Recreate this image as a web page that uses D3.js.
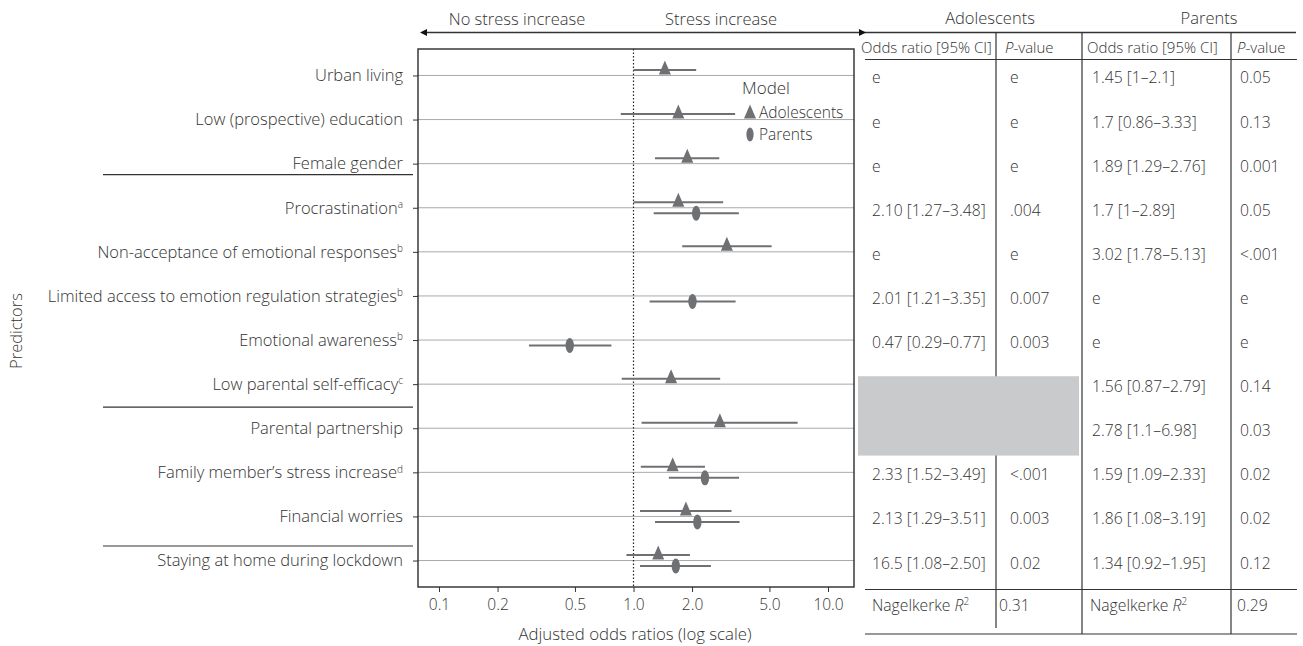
<!DOCTYPE html>
<html>
<head>
<meta charset="utf-8">
<script src="https://cdn.jsdelivr.net/npm/d3@7"></script>
<style>
  body { margin: 0; background: #fff; }
  svg { font-family: "Open Sans", sans-serif; font-weight: 300; }
</style>
</head>
<body>
<svg width="1303" height="646"></svg>
<script>
// predictors, top to bottom
const predictors = [
  "Urban living",
  "Low (prospective) education",
  "Female gender",
  "Procrastination",
  "Non-acceptance of emotional responses",
  "Limited access to emotion regulation strategies",
  "Emotional awareness",
  "Low parental self-efficacy",
  "Parental partnership",
  "Family member\u2019s stress increase",
  "Financial worries",
  "Staying at home during lockdown"
];
const footnotes = ["", "", "", "a", "b", "b", "b", "c", "", "d", "", ""];

// plotted estimates (triangle = "Adolescents" in legend, ellipse = "Parents")
const triOR = [1.45, 1.7, 1.89, 1.7, 3.02, null, null, 1.56, 2.78, 1.59, 1.86, 1.34];
const triLo = [1, 0.86, 1.29, 1, 1.78, null, null, 0.87, 1.1, 1.09, 1.08, 0.92];
const triHi = [2.1, 3.33, 2.76, 2.89, 5.13, null, null, 2.79, 6.98, 2.33, 3.19, 1.95];
const ellOR = [null, null, null, 2.10, null, 2.01, 0.47, null, null, 2.33, 2.13, 1.65];
const ellLo = [null, null, null, 1.27, null, 1.21, 0.29, null, null, 1.52, 1.29, 1.08];
const ellHi = [null, null, null, 3.48, null, 3.35, 0.77, null, null, 3.49, 3.51, 2.50];

const xTicks = [0.1, 0.2, 0.5, 1, 2, 5, 10];

// table columns
const adolOdds = ["e", "e", "e", "2.10 [1.27\u20133.48]", "e", "2.01 [1.21\u20133.35]", "0.47 [0.29\u20130.77]", "", "", "2.33 [1.52\u20133.49]", "2.13 [1.29\u20133.51]", "16.5 [1.08\u20132.50]"];
const adolP = ["e", "e", "e", ".004", "e", "0.007", "0.003", "", "", "<.001", "0.003", "0.02"];
const parOdds = ["1.45 [1\u20132.1]", "1.7 [0.86\u20133.33]", "1.89 [1.29\u20132.76]", "1.7 [1\u20132.89]", "3.02 [1.78\u20135.13]", "e", "e", "1.56 [0.87\u20132.79]", "2.78 [1.1\u20136.98]", "1.59 [1.09\u20132.33]", "1.86 [1.08\u20133.19]", "1.34 [0.92\u20131.95]"];
const parP = ["0.05", "0.13", "0.001", "0.05", "<.001", "e", "e", "0.14", "0.03", "0.02", "0.02", "0.12"];
const nagelkerke = ["0.31", "0.29"];

const panel = {left: 418, right: 854, top: 49, bottom: 587};
const ink = "#333";
const markCol = "#6f7073";
const gridCol = "#a9a9a9";

const svg = d3.select("svg");

const x = d3.scaleLog().domain([0.1, 10]).range([439, 828]);
const y = d3.scalePoint().domain(predictors).range([panel.top, panel.bottom]).padding(0.6);
const step = y.step();

// gridlines
svg.append("g")
    .selectAll("line")
    .data(predictors)
    .join("line")
    .attr("x1", panel.left).attr("x2", panel.right)
    .attr("y1", d => y(d)).attr("y2", d => y(d))
    .attr("stroke", gridCol).attr("stroke-width", 1);

// reference line at OR = 1
svg.append("line")
    .attr("x1", x(1)).attr("x2", x(1))
    .attr("y1", panel.top).attr("y2", panel.bottom)
    .attr("stroke", "#222").attr("stroke-width", 1.2)
    .attr("stroke-dasharray", "1.5,2");

// series
const tri = predictors.map((p, i) => ({p, or: triOR[i], lo: triLo[i], hi: triHi[i]})).filter(d => d.or != null);
const ell = predictors.map((p, i) => ({p, or: ellOR[i], lo: ellLo[i], hi: ellHi[i]})).filter(d => d.or != null);
const triOff = -5.5, ellOff = 5.5;
const triPath = "M0,-9.5L6,4.5L-6,4.5Z";

const marks = svg.append("g");
marks.selectAll("line.tri")
    .data(tri)
    .join("line")
    .attr("class", "tri")
    .attr("x1", d => x(d.lo)).attr("x2", d => x(d.hi))
    .attr("y1", d => y(d.p) + triOff).attr("y2", d => y(d.p) + triOff)
    .attr("stroke", markCol).attr("stroke-width", 2);
marks.selectAll("path.tri")
    .data(tri)
    .join("path")
    .attr("class", "tri")
    .attr("d", triPath)
    .attr("transform", d => `translate(${x(d.or)},${y(d.p) + triOff})`)
    .attr("fill", markCol);
marks.selectAll("line.ell")
    .data(ell)
    .join("line")
    .attr("class", "ell")
    .attr("x1", d => x(d.lo)).attr("x2", d => x(d.hi))
    .attr("y1", d => y(d.p) + ellOff).attr("y2", d => y(d.p) + ellOff)
    .attr("stroke", markCol).attr("stroke-width", 2);
marks.selectAll("ellipse")
    .data(ell)
    .join("ellipse")
    .attr("cx", d => x(d.or)).attr("cy", d => y(d.p) + ellOff)
    .attr("rx", 4.2).attr("ry", 7.5)
    .attr("fill", markCol);

// panel border
svg.append("rect")
    .attr("x", panel.left).attr("y", panel.top)
    .attr("width", panel.right - panel.left).attr("height", panel.bottom - panel.top)
    .attr("fill", "none").attr("stroke", "#2b2b2b").attr("stroke-width", 1.4);

// y axis
const yAxis = svg.append("g")
    .attr("transform", `translate(${panel.left},0)`)
    .call(d3.axisLeft(y).tickSize(5).tickPadding(10))
    .attr("font-family", null).attr("font-size", 16.5);
yAxis.select(".domain").remove();
yAxis.selectAll(".tick line").attr("stroke", ink);
yAxis.selectAll(".tick text")
    .attr("fill", ink)
    .each(function(d) {
        const f = footnotes[predictors.indexOf(d)];
        if (f) d3.select(this).append("tspan").attr("font-size", 10).attr("dy", "-0.55em").text(f);
    });

// x axis
const xAxis = svg.append("g")
    .attr("transform", `translate(0,${panel.bottom})`)
    .call(d3.axisBottom(x).tickValues(xTicks).tickFormat(d3.format(".1f")).tickSize(5).tickPadding(7))
    .attr("font-family", null).attr("font-size", 15.5);
xAxis.select(".domain").remove();
xAxis.selectAll(".tick line").attr("stroke", ink);
xAxis.selectAll(".tick text").attr("fill", ink);

svg.append("text")
    .attr("x", 635).attr("y", 640)
    .attr("text-anchor", "middle").attr("font-size", 16.8).attr("fill", ink)
    .text("Adjusted odds ratios (log scale)");

svg.append("text")
    .attr("transform", "translate(22,331) rotate(-90)")
    .attr("text-anchor", "middle").attr("font-size", 16.5).attr("fill", ink)
    .text("Predictors");

// group separators under labels
const seps = [[2, 0.25], [7, 0.52], [10, 0.67]];
svg.append("g")
    .selectAll("line")
    .data(seps)
    .join("line")
    .attr("x1", 103).attr("x2", 413)
    .attr("y1", d => y(predictors[d[0]]) + step * d[1])
    .attr("y2", d => y(predictors[d[0]]) + step * d[1])
    .attr("stroke", ink).attr("stroke-width", 1.2);

// legend
const lg = svg.append("g").attr("font-size", 15.5).attr("fill", ink);
lg.append("text").attr("x", 742).attr("y", 94).attr("font-size", 17).text("Model");
lg.append("path").attr("d", triPath).attr("transform", "translate(750,114)").attr("fill", markCol);
lg.append("ellipse").attr("cx", 750).attr("cy", 134.5).attr("rx", 3.6).attr("ry", 7).attr("fill", markCol);
lg.append("text").attr("x", 759).attr("y", 118).text("Adolescents");
lg.append("text").attr("x", 759).attr("y", 139.5).text("Parents");

// top header: direction arrow + table top rule
const topY = 32.5;
svg.append("line")
    .attr("x1", 424).attr("x2", 1296).attr("y1", topY).attr("y2", topY)
    .attr("stroke", ink).attr("stroke-width", 1.3);
svg.append("path").attr("d", `M420,${topY}l7,-3.5v7Z`).attr("fill", "#111");
svg.append("path").attr("d", `M866,${topY}l-7,-3.5v7Z`).attr("fill", "#111");
svg.append("text").attr("x", 517).attr("y", 25).attr("text-anchor", "middle")
    .attr("font-size", 16.5).attr("fill", ink).text("No stress increase");
svg.append("text").attr("x", 721).attr("y", 25).attr("text-anchor", "middle")
    .attr("font-size", 16.5).attr("fill", ink).text("Stress increase");

// table
const colX = {a: 872, b: 1010, c: 1092, d: 1240};
const tbl = svg.append("g").attr("fill", ink);
tbl.append("text").attr("x", 990).attr("y", 24).attr("text-anchor", "middle").attr("font-size", 16.5).text("Adolescents");
tbl.append("text").attr("x", 1209).attr("y", 24).attr("text-anchor", "middle").attr("font-size", 16.5).text("Parents");

const hdr = tbl.append("g").attr("font-size", 15);
hdr.append("text").attr("x", 861).attr("y", 53).text("Odds ratio [95% CI]");
hdr.append("text").attr("x", 1087).attr("y", 53).text("Odds ratio [95% CI]");
[1005, 1237].forEach(px => {
    const t = hdr.append("text").attr("x", px).attr("y", 53);
    t.append("tspan").attr("font-style", "italic").text("P");
    t.append("tspan").text("-value");
});

const rules = tbl.append("g").attr("stroke", ink).attr("stroke-width", 1.2);
[59.5, 589.5, 634].forEach(ry => rules.append("line").attr("x1", 865).attr("x2", 1297).attr("y1", ry).attr("y2", ry));
[[996, 628], [1082, 634], [1231, 634]].forEach(([vx, vy]) =>
    rules.append("line").attr("x1", vx).attr("x2", vx).attr("y1", topY).attr("y2", vy));

const cols = [[adolOdds, colX.a], [adolP, colX.b], [parOdds, colX.c], [parP, colX.d]];
cols.forEach(([vals, cx]) => {
    tbl.append("g").attr("font-size", 15.7)
        .selectAll("text")
        .data(vals.map((v, i) => ({v, p: predictors[i]})))
        .join("text")
        .attr("x", cx).attr("y", d => y(d.p) + 2.5).attr("dy", "0.35em")
        .text(d => d.v);
});

// gray block over missing adolescent rows
tbl.append("rect")
    .attr("x", 858).attr("width", 1079 - 858)
    .attr("y", y(predictors[7]) - step * 0.18)
    .attr("height", step * 1.8)
    .attr("fill", "#c9cacc");

// Nagelkerke row
const nagY = 606;
[[colX.a, nagelkerke[0], 999], [colX.c - 2, nagelkerke[1], 1237]].forEach(([lx, val, vx]) => {
    const t = tbl.append("text").attr("x", lx).attr("y", nagY).attr("dy", "0.35em").attr("font-size", 15.7);
    t.append("tspan").text("Nagelkerke ");
    t.append("tspan").attr("font-style", "italic").text("R");
    t.append("tspan").attr("font-size", 10).attr("dy", "-0.6em").text("2");
    tbl.append("text").attr("x", vx).attr("y", nagY).attr("dy", "0.35em").attr("font-size", 15.7).text(val);
});
</script>
</body>
</html>
